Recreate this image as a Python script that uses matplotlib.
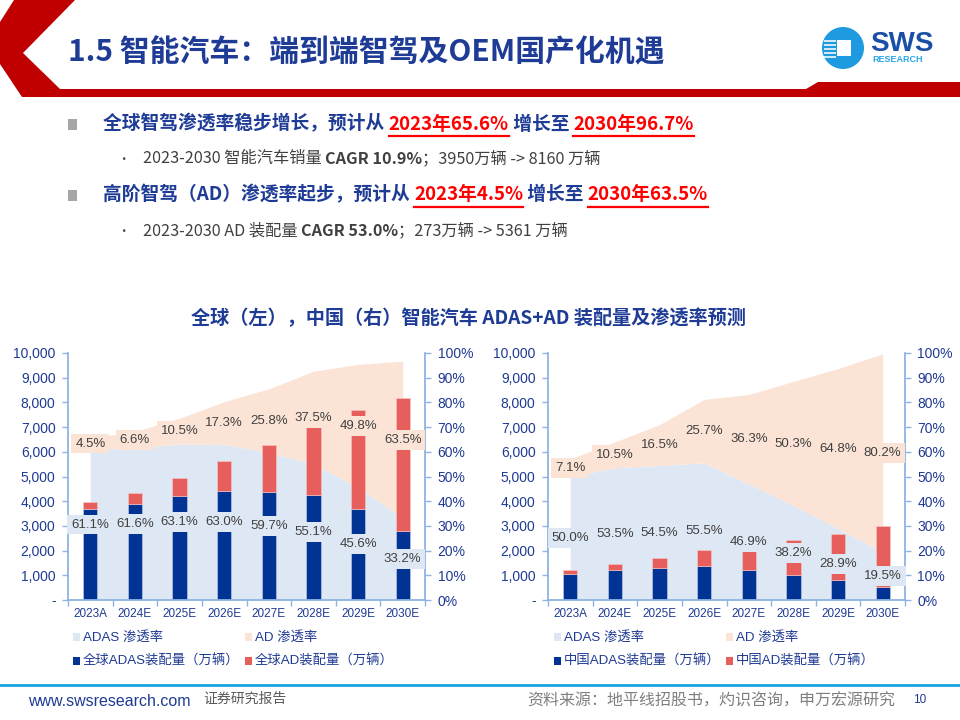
import matplotlib
matplotlib.use('Agg')
import matplotlib.pyplot as plt
from matplotlib.patches import Polygon, Rectangle, Ellipse
from matplotlib.ticker import FuncFormatter, MultipleLocator
import numpy as np

# 数据
years = ['2023A', '2024E', '2025E', '2026E', '2027E', '2028E', '2029E', '2030E']

glb_adas_vol = [3700, 3900, 4210, 4400, 4360, 4240, 3670, 2800]
glb_ad_vol = [270, 420, 710, 1210, 1900, 2830, 4030, 5361]
glb_adas_pct = [61.1, 61.6, 63.1, 63.0, 59.7, 55.1, 45.6, 33.2]
glb_ad_pct = [4.5, 6.6, 10.5, 17.3, 25.8, 37.5, 49.8, 63.5]

cn_adas_vol = [1060, 1210, 1290, 1380, 1210, 1020, 790, 540]
cn_ad_vol = [160, 240, 400, 650, 780, 1390, 1880, 2440]
cn_adas_pct = [50.0, 53.5, 54.5, 55.5, 46.9, 38.2, 28.9, 19.5]
cn_ad_pct = [7.1, 10.5, 16.5, 25.7, 36.3, 50.3, 64.8, 80.2]

NAVY = '#1F3A93'
BAR_BLUE = '#003394'
BAR_RED = '#E65F5C'
AREA_BLUE = '#DEE8F4'
AREA_ORANGE = '#FBE4D5'
AXIS_BLUE = '#8EB4E3'
GRAY_TXT = '#404040'
RED_TXT = '#FF0000'

CJK = ['Noto Sans CJK SC', 'DejaVu Sans']
LAT = ['Liberation Sans', 'Noto Sans CJK SC', 'DejaVu Sans']

W, H = 960, 720
fig = plt.figure(figsize=(9.6, 7.2), dpi=100)
renderer = fig.canvas.get_renderer()


def px(x, y):
    return (x / W, 1 - y / H)


def put(x, y, s, **kw):
    return fig.text(*px(x, y), s, va='center', **kw)


# 页眉红色形状
hdr = Polygon([px(14, 0), px(75, 0), px(23, 53), px(60, 89), px(806, 89), px(818, 82),
               px(960, 82), px(960, 97), px(22, 97), px(0, 64), px(0, 22)],
              closed=True, transform=fig.transFigure, facecolor='#C00000', edgecolor='none')
fig.patches.append(hdr)

put(68, 52, '1.5 智能汽车：端到端智驾及OEM国产化机遇', fontsize=21.5, fontweight='bold',
    color='#1E3C96', family=CJK)

# logo
fig.patches.append(Ellipse(px(843, 48), 42 / W, 42 / H, transform=fig.transFigure,
                           facecolor='#1E9BE0', edgecolor='none'))
fig.patches.append(Rectangle(px(837, 56), 14 / W, 16 / H, transform=fig.transFigure,
                             facecolor='white', edgecolor='none'))
for i in range(5):
    yy = 40 + i * 4
    fig.patches.append(Rectangle(px(824, yy + 1.5), 12 / W, 1.5 / H, transform=fig.transFigure,
                                 facecolor='white', edgecolor='none', alpha=0.8))
put(870, 44, 'SWS', fontsize=20, fontweight='bold', color='#1A4FA6', family=LAT)
put(872, 60, 'RESEARCH', fontsize=6.5, fontweight='bold', color='#2BA6E6', family=LAT)


# 要点
def bullet_line(y, parts):
    x = 103
    for s, kw in parts:
        red = kw.pop('red', False)
        t = put(x, y, s, family=CJK, **kw)
        bb = t.get_window_extent(renderer)
        if red:
            fig.add_artist(plt.Line2D([x / W, (x + bb.width) / W],
                                      [1 - (y + 12) / H] * 2, color=RED_TXT, lw=1.6))
        x += bb.width


fig.patches.append(Rectangle(px(68, 130), 9 / W, 11 / H, transform=fig.transFigure,
                             facecolor='#A6A6A6', edgecolor='none'))
fig.patches.append(Rectangle(px(68, 201), 9 / W, 11 / H, transform=fig.transFigure,
                             facecolor='#A6A6A6', edgecolor='none'))

hb = dict(fontsize=13.5, fontweight='bold', color='#1E3C96')
hr = dict(fontsize=13.5, fontweight='bold', color=RED_TXT, red=True)
bullet_line(124, [('全球智驾渗透率稳步增长，预计从 ', dict(hb)), ('2023年65.6%', dict(hr)),
                  (' 增长至 ', dict(hb)), ('2030年96.7%', dict(hr))])
bullet_line(195, [('高阶智驾（AD）渗透率起步，预计从 ', dict(hb)), ('2023年4.5%', dict(hr)),
                  (' 增长至 ', dict(hb)), ('2030年63.5%', dict(hr))])


def sub_line(y, parts):
    put(117, y, '•', fontsize=9, color=GRAY_TXT, family=CJK)
    x = 143
    for s, kw in parts:
        t = put(x, y, s, family=CJK, color=GRAY_TXT, fontsize=11.7, **kw)
        x += t.get_window_extent(renderer).width


sub_line(159, [('2023-2030 智能汽车销量 ', {}), ('CAGR 10.9%', dict(fontweight='bold')),
               ('；3950万辆 -> 8160 万辆', {})])
sub_line(231, [('2023-2030 AD 装配量 ', {}), ('CAGR 53.0%', dict(fontweight='bold')),
               ('；273万辆 -> 5361 万辆', {})])

# 图表标题
fig.text(*px(468, 318), '全球（左），中国（右）智能汽车 ADAS+AD 装配量及渗透率预测',
         ha='center', va='center', fontsize=13.8, fontweight='bold', color='#1E3C96', family=CJK)


def draw_chart(x0, adas_vol, ad_vol, adas_pct, ad_pct):
    l, r, top, bot = x0, x0 + 357, 353, 600
    ax = fig.add_axes([l / W, 1 - bot / H, (r - l) / W, (bot - top) / H])
    ax2 = ax.twinx()
    ax.set_zorder(ax2.get_zorder() + 1)
    ax.patch.set_visible(False)

    x = np.arange(len(years))
    adas_pct = np.array(adas_pct)
    ad_pct = np.array(ad_pct)
    ax2.fill_between(x, 0, adas_pct, color=AREA_BLUE, lw=0)
    ax2.fill_between(x, adas_pct, adas_pct + ad_pct, color=AREA_ORANGE, lw=0)

    ax.bar(x, adas_vol, width=0.32, color=BAR_BLUE, edgecolor='#C9D3EA', lw=0.4)
    ax.bar(x, ad_vol, width=0.32, bottom=adas_vol, color=BAR_RED, edgecolor='#F6C9C6', lw=0.4)

    for i in range(len(years)):
        ax.text(x[i], adas_pct[i] / 2, f'{adas_pct[i]:.1f}%', transform=ax2.transData,
                ha='center', va='center', fontsize=9.5, color=GRAY_TXT, family=LAT,
                bbox=dict(boxstyle='square,pad=0.3', fc=AREA_BLUE, ec='none'))
        ax.text(x[i], adas_pct[i] + ad_pct[i] / 2, f'{ad_pct[i]:.1f}%', transform=ax2.transData,
                ha='center', va='center', fontsize=9.5, color=GRAY_TXT, family=LAT,
                bbox=dict(boxstyle='square,pad=0.3', fc=AREA_ORANGE, ec='none'))

    ax.set_xlim(-0.5, len(years) - 0.5)
    ax.set_ylim(0, 10000)
    ax2.set_ylim(0, 100)
    ax.yaxis.set_major_locator(MultipleLocator(1000))
    ax.yaxis.set_major_formatter(FuncFormatter(lambda v, p: '-' if v == 0 else f'{int(v):,}'))
    ax2.yaxis.set_major_locator(MultipleLocator(10))
    ax2.yaxis.set_major_formatter(FuncFormatter(lambda v, p: f'{int(v)}%'))

    ax.set_xticks(x)
    ax.set_xticklabels(years)
    ax.set_xticks(np.arange(-0.5, len(years)), minor=True)
    ax.tick_params(axis='x', which='major', length=0, pad=6, labelsize=8.5, labelcolor=NAVY)
    ax.tick_params(axis='x', which='minor', length=4, color=AXIS_BLUE, width=1)
    ax.tick_params(axis='y', length=4, color=AXIS_BLUE, width=1, labelsize=10,
                   labelcolor=NAVY, pad=5)
    ax2.tick_params(axis='y', length=4, color=AXIS_BLUE, width=1, labelsize=10,
                    labelcolor=NAVY, pad=5)
    for lab in ax.get_xticklabels() + ax.get_yticklabels() + ax2.get_yticklabels():
        lab.set_family(LAT)

    for a in (ax, ax2):
        for s in a.spines.values():
            s.set_visible(False)
    ax.spines['left'].set_visible(True)
    ax.spines['bottom'].set_visible(True)
    ax2.spines['right'].set_visible(True)
    for s in (ax.spines['left'], ax.spines['bottom'], ax2.spines['right']):
        s.set_color(AXIS_BLUE)
        s.set_linewidth(1.3)
    return ax


draw_chart(68, glb_adas_vol, glb_ad_vol, glb_adas_pct, glb_ad_pct)
draw_chart(548, cn_adas_vol, cn_ad_vol, cn_adas_pct, cn_ad_pct)


# 图例
def legend(x0, region):
    items = [(x0, 637, AREA_BLUE, 'ADAS 渗透率'), (x0 + 172, 637, AREA_ORANGE, 'AD 渗透率'),
             (x0, 661, BAR_BLUE, region + 'ADAS装配量（万辆）'),
             (x0 + 172, 661, BAR_RED, region + 'AD装配量（万辆）')]
    for xx, yy, c, s in items:
        fig.patches.append(Rectangle(px(xx, yy + 4), 7 / W, 8 / H, transform=fig.transFigure,
                                     facecolor=c, edgecolor='none'))
        put(xx + 10, yy, s, fontsize=9.6, color=NAVY, family=LAT)


legend(73, '全球')
legend(554, '中国')

# 页脚
fig.add_artist(plt.Line2D([0, 1], [1 - 685 / H] * 2, color='#1AA3E0', lw=2))
put(28, 701, 'www.swsresearch.com', fontsize=11.5, color=NAVY, family=LAT)
put(203, 699, '证券研究报告', fontsize=10, color='#595959', family=CJK)
put(527, 701, '资料来源：地平线招股书，灼识咨询，申万宏源研究', fontsize=11.5, color='#7F7F7F', family=CJK)
put(913, 700, '10', fontsize=8.5, color=NAVY, family=LAT)

fig.savefig('out.png', dpi=100)
